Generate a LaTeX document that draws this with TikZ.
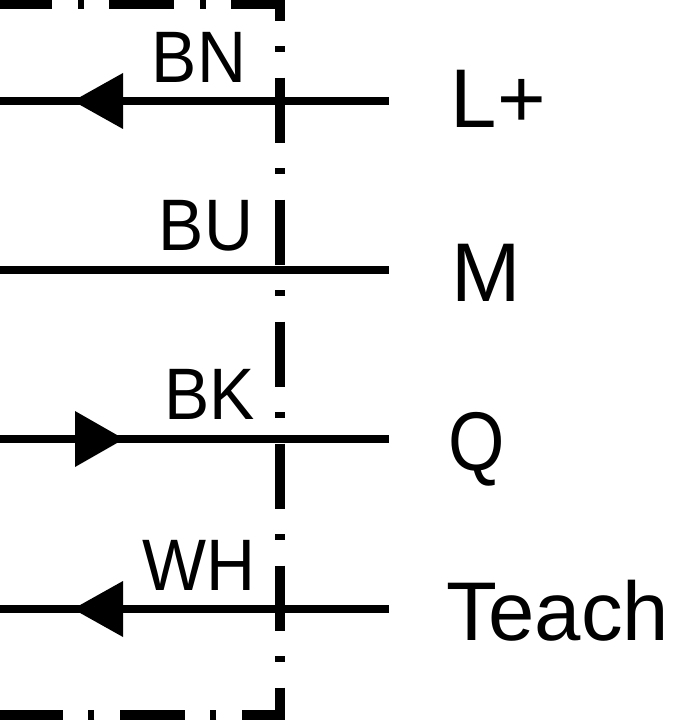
\documentclass[tikz,border=0pt]{standalone}
\usepackage{fontspec}
\setmainfont{Liberation Sans}
\newfontfamily\codefont[FakeStretch=0.93]{Liberation Sans}
\newfontfamily\narrowfont[FakeStretch=0.87]{Liberation Sans}
\usepackage{tikz}
\usetikzlibrary{positioning}

\tikzset{
    wire/.style={line width=1.6mm},
    housing/.style={line width=2mm, dash pattern=on 13mm off 5.1mm on 1.2mm off 5.1mm},
    tip/.style={fill=black, draw=none},
    colorcode/.style={inner sep=0pt, anchor=base west, font=\codefont\fontsize{41.5}{42}\selectfont},
    pinname/.style={inner sep=0pt, anchor=base west, font=\fontsize{47.4}{48}\selectfont}
}

\begin{document}
\begin{tikzpicture}[x=0.2mm,y=-0.2mm]
    \useasboundingbox (0,0) rectangle (672,720);
    \clip (0,0) rectangle (672,720);
    % housing
    \draw [housing] (-13,4) -- (279.5,4) -- (279.5,715) -- (-13,715);
    % pins
    \node [pinname] (Lplus) at (450.5,128) {L+};
    \node [pinname] (M) at (451,301) {M};
    \node [pinname] (Q) at (448,470) {\narrowfont Q};
    \node [pinname] (Teach) at (446.5,640) {Teach};
    % wire colours
    \node [colorcode] (BN) at (151.5,83) {BN};
    \node [colorcode] (BU) at (158.5,250) {BU};
    \node [colorcode] (BK) at (164,419) {BK};
    \node [colorcode] (WH) at (142,590) {WH};
    % wires
    \coordinate (endLplus) at (389,101);
    \coordinate (endM) at (389,270);
    \coordinate (endQ) at (389,439);
    \coordinate (endTeach) at (389,609);
    \coordinate (startLplus) at (0,101);
    \coordinate (startM) at (0,270);
    \coordinate (startQ) at (0,439);
    \coordinate (startTeach) at (0,609);
    \draw [wire] (startLplus) -- (endLplus);
    \draw [wire] (startM) -- (endM);
    \draw [wire] (startQ) -- (endQ);
    \draw [wire] (startTeach) -- (endTeach);
    % arrows
    \fill [tip] (73,101) -- (123,73) -- (123,129) -- cycle;
    \fill [tip] (124,439) -- (75,411) -- (75,467) -- cycle;
    \fill [tip] (73,609) -- (123,581) -- (123,637) -- cycle;
\end{tikzpicture}
\end{document}
